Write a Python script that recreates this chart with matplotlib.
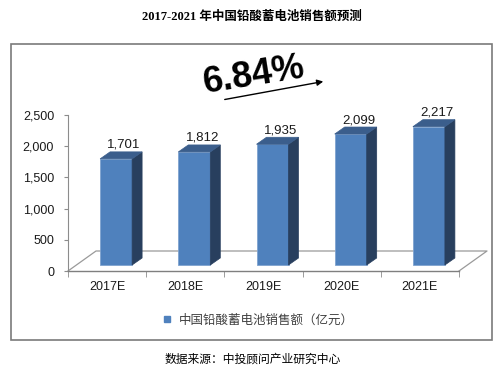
import matplotlib
matplotlib.use("Agg")
import matplotlib.pyplot as plt
from matplotlib.patches import Polygon, Rectangle
from matplotlib.lines import Line2D

categories = ["2017E", "2018E", "2019E", "2020E", "2021E"]
values = [1701, 1812, 1935, 2099, 2217]
value_labels = ["1,701", "1,812", "1,935", "2,099", "2,217"]
yticks = [0, 500, 1000, 1500, 2000, 2500]
ytick_labels = ["0", "500", "1,000", "1,500", "2,000", "2,500"]
title = "2017-2021 年中国铅酸蓄电池销售额预测"
growth_label = "6.84%"
legend_label = "中国铅酸蓄电池销售额（亿元）"
source_label = "数据来源：中投顾问产业研究中心"

W, H = 504, 373
fig = plt.figure(figsize=(W / 100, H / 100), dpi=100)
fig.patch.set_facecolor("white")

ax_l, ax_r, ax_t, ax_b = 68, 459, 115, 271
ax = fig.add_axes([ax_l / W, (H - ax_b) / H, (ax_r - ax_l) / W, (ax_b - ax_t) / H])
ax.set_xlim(-0.5, len(categories) - 0.5)
ax.set_ylim(0, 2500)
ax.patch.set_alpha(0)

# pixel -> data conversion
px_x = (len(categories)) / (ax_r - ax_l)
px_y = 2500 / (ax_b - ax_t)

grey = "#8c8c8c"
for s in ["top", "right"]:
    ax.spines[s].set_visible(False)
ax.spines["left"].set_color(grey)
ax.spines["bottom"].set_color("#7f7f7f")
ax.spines["left"].set_linewidth(0.8)
ax.spines["bottom"].set_linewidth(1.0)

ax.set_yticks(yticks)
ax.set_yticklabels(ytick_labels)
ax.tick_params(axis="y", length=3, color=grey, labelsize=9, labelcolor="#1a1a1a", pad=7)
ax.set_xticks(range(len(categories)))
ax.set_xticklabels(categories)
ax.set_xticks([i - 0.5 for i in range(len(categories) + 1)], minor=True)
ax.tick_params(axis="x", which="major", length=0, labelsize=9, labelcolor="#1a1a1a", pad=7)
ax.tick_params(axis="x", which="minor", length=4, color=grey)
for lab in ax.get_xticklabels() + ax.get_yticklabels():
    lab.set_fontfamily("Liberation Sans")

# floor (3D depth)
fdx, fdy = 28 * px_x, 20 * px_y
x0, x1 = -0.5, len(categories) - 0.5
ax.plot([x0, x0 + fdx, x1 + fdx, x1], [0, fdy, fdy, 0], color="#9a9a9a", lw=0.9,
        clip_on=False, zorder=1)

# bars
off_x, off_y = 9 * px_x, 6 * px_y
bw = 32 * px_x
ddx, ddy = 10 * px_x, 7 * px_y
front = "#4F81BD"
side = "#283F5E"
top = "#3B5E8C"
for i, v in enumerate(values):
    xl = i + off_x - bw / 2
    xr = xl + bw
    b = off_y
    ax.add_patch(Rectangle((xl, b), bw, v, facecolor=front, edgecolor="#7FA3CF",
                           lw=0.6, zorder=3, clip_on=False))
    ax.add_patch(Polygon([(xr, b), (xr, b + v), (xr + ddx, b + v + ddy), (xr + ddx, b + ddy)],
                         closed=True, facecolor=side, edgecolor=side, lw=0.5, zorder=3,
                         clip_on=False))
    ax.add_patch(Polygon([(xl, b + v), (xr, b + v), (xr + ddx, b + v + ddy), (xl + ddx, b + v + ddy)],
                         closed=True, facecolor=top, edgecolor=top, lw=0.5, zorder=3,
                         clip_on=False))
    ax.text(i + off_x + ddx / 2 + 3 * px_x, b + v + ddy + 1 * px_y, value_labels[i],
            ha="center", va="bottom", fontsize=9.5, color="#1a1a1a",
            family="Liberation Sans", zorder=4)

# border
fig.add_artist(Rectangle((11 / W, (H - 340) / H), (492 - 11) / W, (340 - 44) / H,
                         transform=fig.transFigure, fill=False, edgecolor="#7a7a7a", lw=1.2))

# title
fig.text(0.5, 1 - 17 / H, title, ha="center", va="center", fontsize=9, fontweight="bold",
         family=["Liberation Serif", "Noto Sans CJK SC"], color="black")

# growth annotation
fig.text(254 / W, 1 - 76 / H, growth_label, ha="center", va="center", fontsize=26,
         fontweight="bold", rotation=9, family="Liberation Sans", color="black")
ax.annotate("", xy=(326 / W, 1 - 81 / H), xytext=(222 / W, 1 - 100 / H),
            xycoords="figure fraction", textcoords="figure fraction",
            arrowprops=dict(arrowstyle="-|>", color="black", lw=1.0, mutation_scale=9))

# legend
handle = Line2D([], [], marker="s", linestyle="none", markersize=5, color=front)
fig.legend([handle], [legend_label], loc="center", bbox_to_anchor=(258 / W, 1 - 320 / H),
           frameon=False, handlelength=0.8, handletextpad=0.6,
           prop={"family": ["Noto Sans CJK SC", "DejaVu Sans"], "size": 9},
           labelcolor="#404040")

# source
fig.text(253 / W, 1 - 359 / H, source_label, ha="center", va="center", fontsize=8.5,
         family=["Noto Sans CJK SC", "DejaVu Sans"], color="black")

fig.savefig("out.png", dpi=100)
